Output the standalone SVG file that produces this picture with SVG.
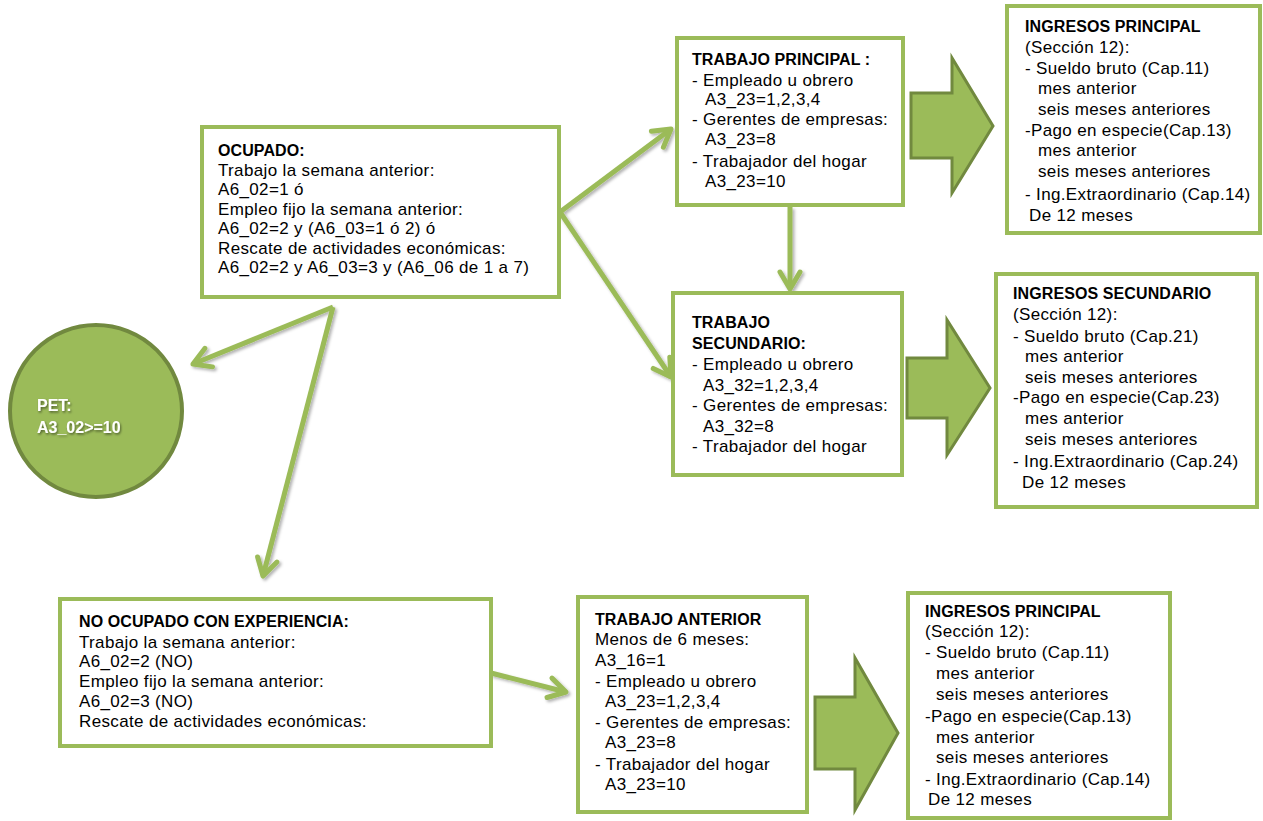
<svg xmlns="http://www.w3.org/2000/svg" width="1263" height="821" viewBox="0 0 1263 821">
<style>
.box{fill:#fff;stroke:#9BBB59;stroke-width:4}
.blk{fill:#9BBB59;stroke:#71893F;stroke-width:3;stroke-linejoin:miter}
.t{font-family:"Liberation Sans",Arial,sans-serif;font-size:17px;letter-spacing:0.35px;fill:#000}
.b{font-weight:bold;font-size:16px;letter-spacing:0.1px}
.w{font-family:"Liberation Sans",Arial,sans-serif;font-size:16px;font-weight:bold;fill:#fff}
.con{fill:none;stroke:#9BBB59;stroke-width:5}
</style>
<defs>
<marker id="ah" markerUnits="userSpaceOnUse" markerWidth="40" markerHeight="40" refX="0" refY="0" orient="auto" overflow="visible">
<path d="M-17,-10 L0,0 L-17,10" fill="none" stroke="#9BBB59" stroke-width="5" stroke-linecap="round" stroke-linejoin="round"/>
</marker>
<filter id="sh" x="-20%" y="-20%" width="140%" height="140%">
<feDropShadow dx="2" dy="2" stdDeviation="1.5" flood-color="#000" flood-opacity="0.3"/>
</filter>
<filter id="tsh" x="-20%" y="-20%" width="140%" height="140%">
<feDropShadow dx="1" dy="1.5" stdDeviation="1" flood-color="#000" flood-opacity="0.5"/>
</filter>
</defs>

<g id="connectors" filter="url(#sh)">
<line class="con" x1="560" y1="212" x2="671" y2="129" marker-end="url(#ah)"/>
<line class="con" x1="560" y1="212" x2="671" y2="377" marker-end="url(#ah)"/>
<line class="con" x1="790" y1="207" x2="790" y2="289" marker-end="url(#ah)"/>
<line class="con" x1="333" y1="307" x2="193" y2="364" marker-end="url(#ah)"/>
<line class="con" x1="333" y1="307" x2="263" y2="576" marker-end="url(#ah)"/>
<line class="con" x1="491" y1="673" x2="566" y2="692" marker-end="url(#ah)"/>
</g>

<g id="block-arrows">
<polygon class="blk" points="911,93 952,93 952,58 993,126 952,193 952,158 911,158"/>
<polygon class="blk" points="907,358 947,358 947,320 990,388 947,455 947,418 907,418"/>
<polygon class="blk" points="815,697 855,697 855,658 898,733 855,810 855,769 815,769"/>
</g>

<g id="pet">
<circle cx="96" cy="411" r="86" fill="#9BBB59" stroke="#71893F" stroke-width="4"/>
<g filter="url(#tsh)">
<text class="w" x="37" y="411">PET:</text>
<text class="w" x="37" y="433">A3_02&gt;=10</text>
</g>
</g>

<g id="ocupado">
<rect class="box" x="202" y="127" width="357" height="170"/>
<text class="t b" x="218" y="156">OCUPADO:</text>
<text class="t" x="218" y="176">Trabajo la semana anterior:</text>
<text class="t" x="218" y="195">A6_02=1 ó</text>
<text class="t" x="218" y="215">Empleo fijo la semana anterior:</text>
<text class="t" x="218" y="234">A6_02=2 y (A6_03=1 ó  2) ó</text>
<text class="t" x="218" y="254">Rescate de actividades económicas:</text>
<text class="t" x="218" y="273">A6_02=2 y A6_03=3 y (A6_06 de 1 a 7)</text>
</g>

<g id="trabajo-principal">
<rect class="box" x="677" y="38" width="226" height="167"/>
<text class="t b" x="692" y="65">TRABAJO PRINCIPAL :</text>
<text class="t" x="692" y="86">- Empleado u obrero</text>
<text class="t" x="705" y="105">A3_23=1,2,3,4</text>
<text class="t" x="692" y="125">- Gerentes de empresas:</text>
<text class="t" x="705" y="145">A3_23=8</text>
<text class="t" x="692" y="167">- Trabajador del hogar</text>
<text class="t" x="705" y="187">A3_23=10</text>
</g>

<g id="ingresos-principal-1">
<rect class="box" x="1007" y="6" width="253" height="227"/>
<text class="t b" x="1025" y="32">INGRESOS PRINCIPAL</text>
<text class="t" x="1025" y="53">(Sección 12):</text>
<text class="t" x="1025" y="74">- Sueldo bruto (Cap.11)</text>
<text class="t" x="1038" y="94">mes anterior</text>
<text class="t" x="1038" y="115">seis meses anteriores</text>
<text class="t" x="1025" y="136">-Pago en especie(Cap.13)</text>
<text class="t" x="1038" y="156">mes anterior</text>
<text class="t" x="1038" y="177">seis meses anteriores</text>
<text class="t" x="1025" y="200">- Ing.Extraordinario (Cap.14)</text>
<text class="t" x="1029" y="221">De 12 meses</text>
</g>

<g id="trabajo-secundario">
<rect class="box" x="673" y="293" width="229" height="182"/>
<text class="t b" x="692" y="328">TRABAJO</text>
<text class="t b" x="692" y="349">SECUNDARIO:</text>
<text class="t" x="692" y="370">- Empleado u obrero</text>
<text class="t" x="703" y="391">A3_32=1,2,3,4</text>
<text class="t" x="692" y="411">- Gerentes de empresas:</text>
<text class="t" x="703" y="432">A3_32=8</text>
<text class="t" x="692" y="452">- Trabajador del hogar</text>
</g>

<g id="ingresos-secundario">
<rect class="box" x="996" y="274" width="261" height="233"/>
<text class="t b" x="1013" y="299">INGRESOS SECUNDARIO</text>
<text class="t" x="1013" y="320">(Sección 12):</text>
<text class="t" x="1013" y="342">- Sueldo bruto (Cap.21)</text>
<text class="t" x="1025" y="362">mes anterior</text>
<text class="t" x="1025" y="383">seis meses anteriores</text>
<text class="t" x="1013" y="403">-Pago en especie(Cap.23)</text>
<text class="t" x="1025" y="424">mes anterior</text>
<text class="t" x="1025" y="445">seis meses anteriores</text>
<text class="t" x="1013" y="467">- Ing.Extraordinario (Cap.24)</text>
<text class="t" x="1022" y="488">De 12 meses</text>
</g>

<g id="no-ocupado">
<rect class="box" x="60" y="599" width="431" height="147"/>
<text class="t b" x="79" y="627">NO OCUPADO CON EXPERIENCIA:</text>
<text class="t" x="79" y="648">Trabajo la semana anterior:</text>
<text class="t" x="79" y="667">A6_02=2 (NO)</text>
<text class="t" x="79" y="687">Empleo fijo la semana anterior:</text>
<text class="t" x="79" y="707">A6_02=3 (NO)</text>
<text class="t" x="79" y="727">Rescate de actividades económicas:</text>
</g>

<g id="trabajo-anterior">
<rect class="box" x="578" y="597" width="229" height="215"/>
<text class="t b" x="595" y="625">TRABAJO ANTERIOR</text>
<text class="t" x="595" y="645">Menos de 6 meses:</text>
<text class="t" x="595" y="666">A3_16=1</text>
<text class="t" x="595" y="687">- Empleado u obrero</text>
<text class="t" x="605" y="707">A3_23=1,2,3,4</text>
<text class="t" x="595" y="728">- Gerentes de empresas:</text>
<text class="t" x="605" y="748">A3_23=8</text>
<text class="t" x="595" y="770">- Trabajador del hogar</text>
<text class="t" x="605" y="790">A3_23=10</text>
</g>

<g id="ingresos-principal-2">
<rect class="box" x="908" y="593" width="262" height="225"/>
<text class="t b" x="925" y="617">INGRESOS PRINCIPAL</text>
<text class="t" x="925" y="637">(Sección 12):</text>
<text class="t" x="925" y="658">- Sueldo bruto (Cap.11)</text>
<text class="t" x="936" y="679">mes anterior</text>
<text class="t" x="936" y="700">seis meses anteriores</text>
<text class="t" x="925" y="722">-Pago en especie(Cap.13)</text>
<text class="t" x="936" y="743">mes anterior</text>
<text class="t" x="936" y="763">seis meses anteriores</text>
<text class="t" x="925" y="785">- Ing.Extraordinario (Cap.14)</text>
<text class="t" x="928" y="805">De 12 meses</text>
</g>
</svg>
